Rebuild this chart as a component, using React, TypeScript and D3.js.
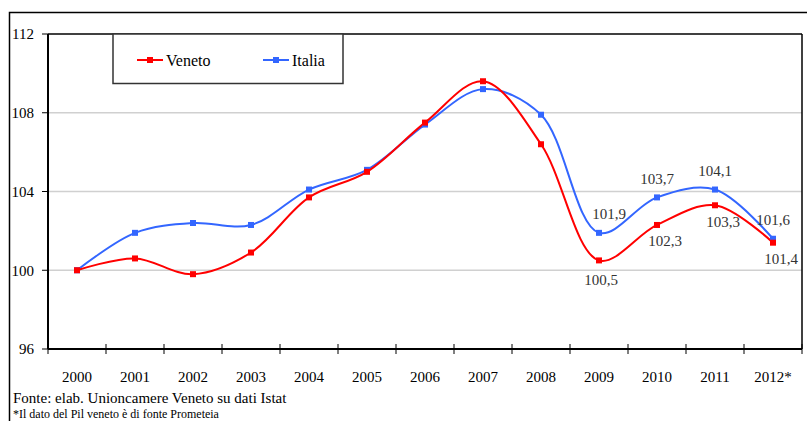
import React from "react";
import * as d3 from "d3";

const years = ["2000", "2001", "2002", "2003", "2004", "2005", "2006", "2007", "2008", "2009", "2010", "2011", "2012*"];
const veneto = [100, 100.6, 99.8, 100.9, 103.7, 105.0, 107.5, 109.6, 106.4, 100.5, 102.3, 103.3, 101.4];
const italia = [100, 101.9, 102.4, 102.3, 104.1, 105.1, 107.4, 109.2, 107.9, 101.9, 103.7, 104.1, 101.6];
const yTicks = [96, 100, 104, 108, 112];
const labelFrom = 9; // data labels from 2009
const sourceText = "Fonte: elab. Unioncamere Veneto su dati Istat";
const noteText = "*Il dato del Pil veneto è di fonte Prometeia";

const RED = "#ff0000";
const BLUE = "#3366ff";
const FONT = "Liberation Serif, DejaVu Serif, serif";

export default function App() {
  const W = 807, H = 421;
  const left = 48, right = 802, top = 34, bottom = 349;
  const x = d3.scaleBand<string>().domain(years).range([left, right]);
  const y = d3.scaleLinear().domain([96, 112]).range([bottom, top]);
  const cx = (i: number) => (x(years[i]) as number) + x.bandwidth() / 2;
  const line = d3
    .line<number>()
    .x((_, i) => cx(i))
    .y((d) => y(d))
    .curve(d3.curveCatmullRom.alpha(0.5));
  const fmt = (v: number) => v.toFixed(1).replace(".", ",");
  const boundaries = d3.range(years.length + 1).map((i) => left + i * x.bandwidth());
  const ts = { fontFamily: FONT };

  return (
    <svg width={W} height={H} style={{ position: "absolute", left: 0, top: 0, fontFamily: FONT }}>
      <rect x={0} y={0} width={W} height={H} fill="#fff" />
      {/* outer frame */}
      <rect x={9.5} y={12.5} width={W + 10} height={H + 10} fill="none" stroke="#000" strokeWidth={1.5} />
      {/* gridlines */}
      {yTicks.filter((t) => t !== 96 && t !== 112).map((t) => (
        <line key={t} x1={left} x2={right} y1={y(t)} y2={y(t)} stroke="#d0d0d0" strokeWidth={1.5} />
      ))}
      {/* plot frame top/right */}
      <line x1={left} x2={right} y1={top} y2={top} stroke="#000" strokeWidth={1.5} />
      <line x1={right} x2={right} y1={top} y2={bottom} stroke="#000" strokeWidth={1.5} />
      {/* y axis */}
      <line x1={left} x2={left} y1={top} y2={bottom} stroke="#000" strokeWidth={2} />
      {yTicks.map((t) => (
        <g key={t}>
          <line x1={left - 6} x2={left} y1={y(t)} y2={y(t)} stroke="#000" strokeWidth={1} />
          <text x={34} y={y(t)} dy="0.35em" textAnchor="end" fontSize={15} fill="#000" style={ts}>
            {t}
          </text>
        </g>
      ))}
      {/* x axis */}
      <line x1={left} x2={right} y1={bottom} y2={bottom} stroke="#000" strokeWidth={2} />
      {boundaries.map((b, i) => (
        <line key={i} x1={b} x2={b} y1={bottom - 5} y2={bottom + 5} stroke="#000" strokeWidth={1} />
      ))}
      {years.map((yr, i) => (
        <text key={yr} x={cx(i)} y={382} textAnchor="middle" fontSize={15} fill="#000" style={ts}>
          {yr}
        </text>
      ))}
      {/* lines */}
      <path d={line(italia) || ""} fill="none" stroke={BLUE} strokeWidth={2} />
      <path d={line(veneto) || ""} fill="none" stroke={RED} strokeWidth={2} />
      {italia.map((v, i) => (
        <rect key={"i" + i} x={cx(i) - 3} y={y(v) - 3} width={6} height={6} fill={BLUE} />
      ))}
      {veneto.map((v, i) => (
        <rect key={"v" + i} x={cx(i) - 3} y={y(v) - 3} width={6} height={6} fill={RED} />
      ))}
      {/* data labels */}
      {italia.map((v, i) =>
        i >= labelFrom ? (
          <text key={"li" + i} x={cx(i) + (i === labelFrom ? 10 : 0)} y={y(v) - 19} dy="0.35em" textAnchor="middle" fontSize={15} fill="#333" style={ts}>
            {fmt(v)}
          </text>
        ) : null
      )}
      {veneto.map((v, i) =>
        i >= labelFrom ? (
          <text key={"lv" + i} x={cx(i) + (i === labelFrom ? 2 : 8)} y={y(v) + (i === labelFrom ? 19 : 16)} dy="0.35em" textAnchor="middle" fontSize={15} fill="#333" style={ts}>
            {fmt(v)}
          </text>
        ) : null
      )}
      {/* legend */}
      <rect x={113} y={34} width={230} height={49.5} fill="#fff" stroke="#333" strokeWidth={1.5} />
      <line x1={137} x2={163} y1={60} y2={60} stroke={RED} strokeWidth={2} />
      <rect x={147} y={57} width={6} height={6} fill={RED} />
      <text x={166} y={65.5} fontSize={16} fill="#000" style={ts}>Veneto</text>
      <line x1={263} x2={289} y1={60} y2={60} stroke={BLUE} strokeWidth={2} />
      <rect x={273} y={57} width={6} height={6} fill={BLUE} />
      <text x={292} y={65.5} fontSize={16} fill="#000" style={ts}>Italia</text>
      {/* source */}
      <text x={13} y={403} fontSize={15} fill="#000" style={ts}>{sourceText}</text>
      <text x={13} y={418} fontSize={12} fill="#000" style={ts}>{noteText}</text>
    </svg>
  );
}
